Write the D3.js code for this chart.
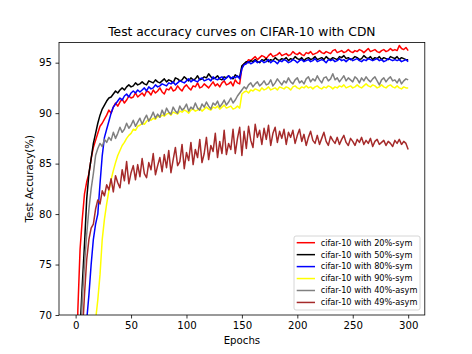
<!DOCTYPE html>
<html>
<head>
<meta charset="utf-8">
<script src="https://cdn.jsdelivr.net/npm/d3@7"></script>
<style>
body { margin: 0; background: #fff; }
text { font-family: "DejaVu Sans", sans-serif; fill: #000; }
</style>
</head>
<body>
<svg id="chart"></svg>
<script>
// Data: test accuracy (%) every 2 epochs, epoch 0..300
const labels = [
    "cifar-10 with 20%-sym",
    "cifar-10 with 50%-sym",
    "cifar-10 with 80%-sym",
    "cifar-10 with 90%-sym",
    "cifar-10 with 40%-asym",
    "cifar-10 with 49%-asym"
];
const colors = ["red", "black", "blue", "yellow", "grey", "brown"];

const sym20 = [
    58, 70.5, 76.5, 79.5, 82.0, 83.2, 84.0, 85.5, 86.6, 87.3,
    88.0, 88.7, 89.0, 89.4, 89.8, 90.3, 90.0, 90.6, 91.0, 90.7,
    91.1, 91.4, 91.0, 91.3, 91.7, 91.5, 91.6, 92.0, 91.6, 91.8,
    92.0, 91.7, 92.2, 92.1, 91.8, 92.3, 92.0, 92.2, 92.5, 92.1,
    91.9, 92.4, 92.3, 92.6, 92.2, 92.3, 92.7, 92.4, 92.2, 92.6,
    92.8, 92.5, 92.3, 92.7, 92.6, 93.0, 92.5, 92.6, 92.9, 92.7,
    92.5, 92.8, 93.1, 92.7, 92.9, 92.6, 93.0, 93.2, 92.8, 92.9,
    93.1, 92.7, 93.3, 93.0, 92.9,
    94.5, 94.9, 95.0, 95.3, 95.2, 95.4, 95.6, 95.3, 95.5, 95.7,
    95.6, 95.4, 95.7, 95.9, 95.6, 95.7, 95.8, 96.0, 95.7, 95.8,
    95.9, 95.7, 95.8, 96.1, 95.9, 95.8, 96.0, 95.8, 95.7, 96.0,
    95.9, 96.1, 95.8, 95.9, 96.0, 96.2, 96.0, 95.9, 96.1, 96.0,
    95.9, 96.2, 96.3, 96.0, 96.1, 96.2, 96.0, 96.1, 96.3, 96.1,
    96.0, 96.2, 96.1, 96.3, 96.2, 96.0, 96.2, 96.4, 96.1, 96.2,
    96.3, 96.1, 96.0, 96.2, 96.3, 96.1, 96.2, 96.4, 96.2, 96.3,
    96.2, 96.7, 96.4, 96.3, 96.5,
    96.2
];
const sym50 = [
    50, 62, 68.5, 73.0, 77.0, 81.5, 84.0, 85.5, 87.0, 88.0,
    89.0, 89.8, 90.4, 90.8, 91.2, 91.5, 91.6, 91.9, 92.2, 92.0,
    92.3, 92.5, 92.3, 92.6, 92.8, 92.6, 92.7, 93.0, 92.8, 92.9,
    93.1, 92.9, 92.8, 93.2, 93.1, 93.0, 93.3, 93.1, 93.0, 93.2,
    93.4, 93.1, 93.3, 93.2, 93.0, 93.5, 93.4, 93.2, 93.3, 93.6,
    93.4, 93.2, 93.5, 93.3, 93.4, 93.7, 93.3, 93.4, 93.6, 93.5,
    93.9, 93.6, 93.4, 93.5, 93.7, 93.4, 93.3, 93.6, 93.5, 93.7,
    93.5, 93.4, 93.8, 93.6, 93.6,
    94.7, 94.9, 95.1, 95.0, 95.2, 95.1, 95.3, 95.1, 95.0, 95.3,
    95.2, 95.4, 95.1, 95.3, 95.2, 95.5, 95.3, 95.2, 95.4, 95.3,
    95.5, 95.2, 95.4, 95.3, 95.6, 95.4, 95.3, 95.5, 95.2, 95.4,
    95.5, 95.3, 95.4, 95.6, 95.3, 95.4, 95.5, 95.3, 95.6, 95.4,
    95.3, 95.5, 95.4, 95.3, 95.6, 95.5, 95.7, 95.4, 95.5, 95.3,
    95.4, 95.6, 95.5, 95.3, 95.4, 95.7, 95.5, 95.4, 95.6, 95.3,
    95.5, 95.4, 95.6, 95.3, 95.5, 95.4, 95.3, 95.6, 95.5, 95.4,
    95.6, 95.3, 95.5, 95.4, 95.3,
    95.3
];
const sym80 = [
    30, 40, 50, 58, 64, 69.5, 72.0, 75.0, 77.5, 79.0,
    80.0, 83.0, 85.8, 87.6, 88.4, 89.2, 90.0, 90.6, 90.9, 91.2,
    91.5, 91.3, 91.7, 91.9, 91.6, 92.0, 92.2, 92.0, 92.3, 92.1,
    92.3, 92.5, 92.2, 92.6, 92.4, 92.5, 92.8, 92.6, 92.7, 92.9,
    92.8, 92.7, 93.0, 92.9, 93.1, 92.8, 93.0, 93.2, 93.1, 93.0,
    93.2, 93.4, 93.1, 93.3, 93.2, 93.1, 93.4, 93.5, 93.2, 93.3,
    93.4, 93.2, 93.6, 93.4, 93.3, 93.5, 93.6, 93.3, 93.5, 93.7,
    93.4, 93.6, 93.5, 93.7, 93.4,
    94.4, 94.8, 94.9, 95.1, 94.9, 95.0, 95.2, 95.0, 95.1, 95.2,
    95.0, 95.1, 95.3, 95.0, 95.2, 95.1, 94.9, 95.2, 95.1, 95.3,
    95.2, 95.0, 95.1, 95.3, 95.2, 95.0, 95.2, 95.3, 95.1, 95.2,
    95.3, 95.1, 95.2, 95.4, 95.1, 95.2, 95.3, 95.2, 95.0, 95.3,
    95.2, 95.3, 95.1, 95.2, 95.4, 95.2, 95.3, 95.1, 95.3, 95.4,
    95.2, 95.3, 95.4, 95.2, 95.1, 95.3, 95.2, 95.4, 95.3, 95.2,
    95.3, 95.4, 95.2, 95.3, 95.1, 95.2, 95.4, 95.3, 95.2, 95.3,
    95.2, 95.3, 95.1, 95.2, 95.3,
    95.1
];
const sym90 = [
    20, 30, 38, 45, 50, 55, 59, 63, 66, 69.5,
    71.5, 74.0, 77.5, 79.5, 81.0, 82.3, 83.4, 84.3, 85.1, 85.8,
    86.3, 86.8, 87.1, 87.5, 87.8, 88.0, 88.4, 88.3, 88.7, 88.8,
    89.0, 88.9, 89.2, 89.4, 89.3, 89.5, 89.4, 89.7, 89.6, 89.8,
    89.7, 89.9, 90.0, 89.8, 90.1, 90.0, 89.9, 90.2, 90.1, 90.3,
    90.2, 90.0, 90.3, 90.4, 90.2, 90.3, 90.5, 90.2, 90.4, 90.6,
    90.4, 90.3, 90.6, 90.5, 90.7, 90.4, 90.6, 90.8, 90.5, 90.6,
    90.7, 90.4, 90.5, 90.7, 90.5,
    91.9, 92.1, 92.2, 92.0, 92.3, 92.2, 92.4, 92.3, 92.2, 92.5,
    92.3, 92.4, 92.6, 92.3, 92.4, 92.5, 92.3, 92.6, 92.5, 92.4,
    92.6, 92.5, 92.3, 92.6, 92.7, 92.5, 92.4, 92.6, 92.5, 92.7,
    92.5, 92.6, 92.4, 92.6, 92.7, 92.5, 92.4, 92.6, 92.5, 92.7,
    92.6, 92.4, 92.6, 92.5, 92.7, 92.6, 92.8, 92.5, 92.6, 92.7,
    92.5, 92.6, 92.8, 92.6, 92.5, 92.7, 92.9, 92.7, 92.6, 92.8,
    92.7, 92.5, 92.6, 92.8, 92.6, 92.5, 92.7, 92.8, 92.6, 92.5,
    92.7, 92.5, 92.4, 92.6, 92.5,
    92.5
];
const asym40 = [
    48, 60, 66, 71.5, 75, 78, 80.5, 82.5, 84.0, 85.8,
    86.5, 87.0, 86.7, 87.4, 87.1, 87.6, 87.3, 88.1, 87.5, 88.0,
    88.6, 88.1, 88.4, 89.0, 88.5, 88.8, 89.3, 88.7, 89.1, 89.5,
    88.9, 89.4, 89.8, 89.2, 89.6, 90.1, 89.5, 89.9, 89.6, 90.3,
    89.8, 90.5, 90.1, 89.9, 90.6, 90.2, 90.0, 90.7, 90.3, 90.5,
    90.9, 90.2, 90.6, 90.4, 91.0, 90.5, 90.3, 90.9, 90.6, 91.1,
    90.7, 90.4, 91.0, 90.8, 91.2, 90.6, 90.9, 91.3, 90.8, 91.1,
    91.5, 91.0, 91.3, 91.7, 92.0,
    92.3, 92.6, 92.4, 92.8, 93.0, 92.6, 92.9, 93.1, 92.7, 92.9,
    93.2, 92.8, 92.9, 93.3, 92.7, 93.0, 93.4, 93.1, 92.8, 93.2,
    93.0, 93.5, 93.1, 92.9, 93.3, 93.5, 93.0, 93.2, 92.9, 93.4,
    93.6, 93.1, 93.4, 93.2, 93.7, 93.3, 93.0, 93.5, 93.6, 93.2,
    93.4, 93.9, 93.3, 93.5, 93.1, 93.4, 93.7, 93.2, 93.5, 93.3,
    93.1, 93.6, 93.4, 93.0, 93.5, 93.2, 93.6, 93.3, 93.1, 93.4,
    93.6, 93.2, 92.8, 93.3, 93.5, 93.1, 93.4, 93.6, 93.2, 93.3,
    93.0, 93.4, 92.9, 93.2, 93.4,
    93.3
];
const asym49 = [
    45, 56, 63, 68, 72.0, 75.5, 77.5, 78.6, 79.0, 80.5,
    81.4, 81.0, 82.3, 81.8, 82.9, 82.4, 83.5, 82.2, 83.8, 83.1,
    82.6, 84.4, 83.3, 85.2, 83.0, 84.1, 84.8, 83.4, 84.9, 83.7,
    85.5, 84.0, 83.6, 85.1, 84.4, 86.0, 83.9, 84.8, 85.6, 84.2,
    85.9, 84.6, 86.3, 84.1, 85.4, 86.6, 84.8, 85.2, 86.9, 84.5,
    86.1, 85.3, 87.1, 84.9, 86.4, 85.6, 87.4, 85.1, 86.0, 87.6,
    85.4, 86.8, 86.2, 88.0, 85.6, 87.2, 86.0, 88.3, 85.9, 87.0,
    86.4, 88.4, 86.0, 87.5, 88.6,
    85.8, 88.2, 86.5, 88.7, 87.3, 86.6, 88.9, 87.6, 88.3, 86.9,
    88.5, 87.4, 88.8, 86.8, 88.0, 88.6, 87.1, 88.2, 87.5, 88.4,
    86.9, 88.1, 87.6, 88.3, 87.0, 87.8, 88.4, 87.2, 87.9, 86.8,
    87.6, 88.2, 87.3, 87.0, 87.8, 86.9, 87.5, 88.1, 87.2, 86.8,
    87.7, 87.3, 87.0, 87.6, 86.9, 87.4, 87.8, 87.1, 86.8, 87.5,
    87.2, 86.8, 87.4, 87.1, 87.6, 86.9, 87.3, 87.0, 87.5, 86.7,
    87.2, 87.4, 86.9, 87.1, 87.3, 86.8, 87.2, 87.0, 86.7, 87.3,
    87.0, 87.4, 86.9, 87.2, 87.0,
    86.4
];
const series = [sym20, sym50, sym80, sym90, asym40, asym49];

const xTicks = [0, 50, 100, 150, 200, 250, 300];
const yTicks = [70, 75, 80, 85, 90, 95];

// Size
const width = 472;
const height = 354;
const margin = { top: 42.5, right: 47.2, bottom: 39, left: 59 };

const svg = d3.select("#chart")
    .attr("width", width)
    .attr("height", height);

const x = d3.scaleLinear()
    .domain([-15, 315])
    .range([margin.left, width - margin.right]);

const y = d3.scaleLinear()
    .domain([70, 97])
    .range([height - margin.bottom, margin.top]);

svg.append("clipPath")
    .attr("id", "plot-clip")
    .append("rect")
    .attr("x", margin.left)
    .attr("y", margin.top)
    .attr("width", width - margin.left - margin.right)
    .attr("height", height - margin.top - margin.bottom);

// Lines
const line = d3.line()
    .x((d, i) => x(i * 2))
    .y(d => y(d));

svg.append("g")
    .attr("clip-path", "url(#plot-clip)")
    .selectAll("path")
    .data(series)
    .enter()
    .append("path")
    .attr("d", d => line(d))
    .attr("fill", "none")
    .attr("stroke", (d, i) => colors[i])
    .attr("stroke-width", 1.5)
    .attr("stroke-linejoin", "round");

// Axes
const xAxis = svg.append("g")
    .attr("transform", `translate(0,${height - margin.bottom})`)
    .call(d3.axisBottom(x).tickValues(xTicks).tickSize(3.5).tickPadding(3.5));

const yAxis = svg.append("g")
    .attr("transform", `translate(${margin.left},0)`)
    .call(d3.axisLeft(y).tickValues(yTicks).tickSize(3.5).tickPadding(3.5));

[xAxis, yAxis].forEach(g => {
    g.select(".domain").remove();
    g.selectAll(".tick line").attr("stroke", "#000").attr("stroke-width", 0.8);
    g.selectAll(".tick text")
        .attr("font-family", "DejaVu Sans")
        .attr("font-size", "10.2px")
        .attr("fill", "#000");
});

// Frame
svg.append("rect")
    .attr("x", margin.left)
    .attr("y", margin.top)
    .attr("width", width - margin.left - margin.right)
    .attr("height", height - margin.top - margin.bottom)
    .attr("fill", "none")
    .attr("stroke", "#000")
    .attr("stroke-width", 0.8);

// Title and axis labels
svg.append("text")
    .attr("x", (margin.left + width - margin.right) / 2)
    .attr("y", 36.3)
    .attr("text-anchor", "middle")
    .attr("font-size", "12.3px")
    .text("Test accuracy curves on CIFAR-10 with CDN");

svg.append("text")
    .attr("x", (margin.left + width - margin.right) / 2)
    .attr("y", 343.5)
    .attr("text-anchor", "middle")
    .attr("font-size", "10.2px")
    .text("Epochs");

svg.append("text")
    .attr("transform", "rotate(-90)")
    .attr("x", -(margin.top + height - margin.bottom) / 2)
    .attr("y", 32.5)
    .attr("text-anchor", "middle")
    .attr("font-size", "10.2px")
    .text("Test Accuracy(%)");

// Legend
const legend = svg.append("g")
    .attr("transform", "translate(294,236)");

legend.append("rect")
    .attr("width", 126)
    .attr("height", 74)
    .attr("rx", 2)
    .attr("fill", "rgba(255,255,255,0.8)")
    .attr("stroke", "#cccccc")
    .attr("stroke-width", 0.8);

labels.forEach((name, i) => {
    const row = legend.append("g")
        .attr("transform", `translate(0,${6.7 + i * 11.95})`);
    row.append("line")
        .attr("x1", 2.7).attr("x2", 21)
        .attr("stroke", colors[i])
        .attr("stroke-width", 1.5);
    row.append("text")
        .attr("x", 26.7)
        .attr("dy", "0.35em")
        .attr("font-size", "8.2px")
        .text(name);
});
</script>
</body>
</html>
